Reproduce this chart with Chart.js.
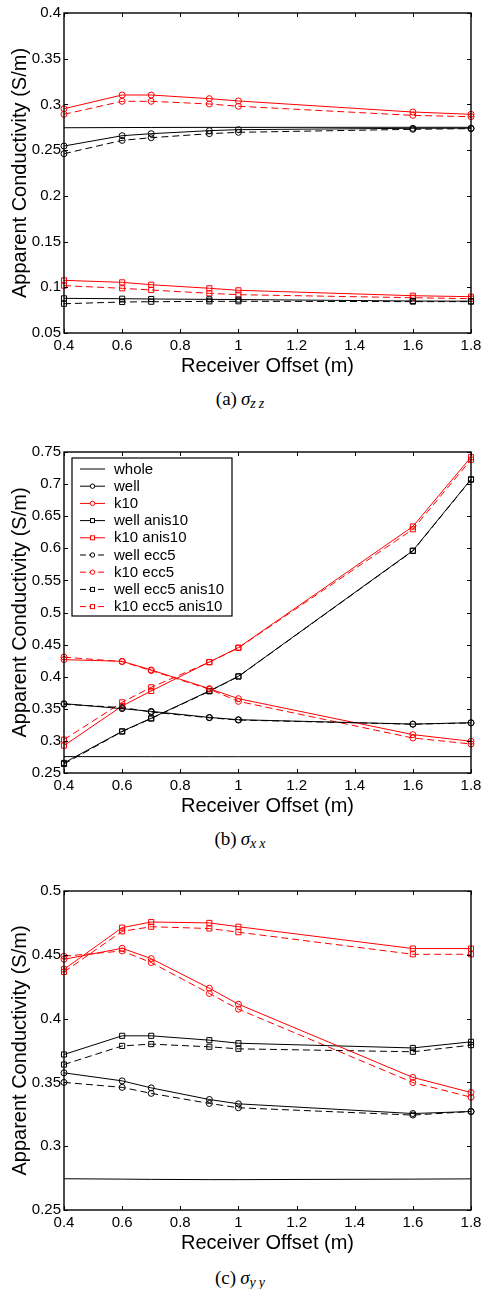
<!DOCTYPE html>
<html>
<head>
<meta charset="utf-8">
<script src="https://cdn.jsdelivr.net/npm/chart.js@4.4.1/dist/chart.umd.min.js"></script>
<style>
  body { margin: 0; background: #fff; }
  #page { position: relative; width: 483px; height: 1289px; overflow: hidden; }
  canvas { position: absolute; left: 0; }
  .cap {
    position: absolute; left: 0; width: 483px; text-align: center;
    font-family: "Liberation Serif", "DejaVu Serif", serif; font-size: 19px; color: #000;
    line-height: 22px;
  }
  .cap i.s { margin-left: 4px; }
  .cap sub { font-size: 14px; letter-spacing: 3px; vertical-align: -3px; }
</style>
</head>
<body>
<div id="page">
  <canvas id="chartZZ" width="483" height="378" style="top:0px"></canvas>
  <div class="cap" style="top:388px">(a)<i class="s">σ</i><sub><i>zz</i></sub></div>
  <canvas id="chartXX" width="483" height="379" style="top:439px"></canvas>
  <div class="cap" style="top:828px">(b)<i class="s">σ</i><sub><i>xx</i></sub></div>
  <canvas id="chartYY" width="483" height="377" style="top:878px"></canvas>
  <div class="cap" style="top:1267px">(c)<i class="s">σ</i><sub><i>yy</i></sub></div>
</div>
<script>
// receiver offsets (m), same for every series
const offsets = [0.4, 0.6, 0.7, 0.9, 1.0, 1.6, 1.8];

// sigma zz
const zzWhole       = [0.2745, 0.2747, 0.2748, 0.2749, 0.2749, 0.275, 0.275];
const zzWell        = [0.2545, 0.2658, 0.268, 0.2713, 0.2724, 0.2739, 0.274];
const zzK10         = [0.2953, 0.3103, 0.3103, 0.3063, 0.3038, 0.2917, 0.2892];
const zzWellAnis    = [0.0879, 0.0875, 0.0872, 0.0868, 0.0866, 0.085, 0.0848];
const zzK10Anis     = [0.1076, 0.1054, 0.1028, 0.0989, 0.0967, 0.0908, 0.0897];
const zzWellEcc     = [0.2461, 0.2607, 0.2636, 0.268, 0.2695, 0.2728, 0.2735];
const zzK10Ecc      = [0.2892, 0.3034, 0.3034, 0.3005, 0.298, 0.288, 0.2866];
const zzWellEccAnis = [0.082, 0.0839, 0.0842, 0.0846, 0.0847, 0.0843, 0.0843];
const zzK10EccAnis  = [0.1018, 0.0989, 0.097, 0.0934, 0.0919, 0.0886, 0.0875];

// sigma xx
const xxWhole       = [0.2755, 0.2755, 0.2754, 0.2754, 0.2754, 0.2755, 0.2755];
const xxWell        = [0.358, 0.3502, 0.346, 0.3366, 0.333, 0.3262, 0.3283];
const xxK10         = [0.4266, 0.424, 0.4105, 0.3814, 0.3658, 0.3098, 0.2994];
const xxWellAnis    = [0.2657, 0.315, 0.3353, 0.3778, 0.4006, 0.5964, 0.7075];
const xxK10Anis     = [0.2927, 0.3544, 0.3778, 0.4229, 0.4453, 0.634, 0.742];
const xxWellEcc     = [0.357, 0.352, 0.345, 0.336, 0.3325, 0.326, 0.328];
const xxK10Ecc      = [0.4305, 0.4235, 0.4095, 0.3805, 0.3616, 0.3045, 0.2952];
const xxWellEccAnis = [0.264, 0.3145, 0.3348, 0.3772, 0.4002, 0.5958, 0.707];
const xxK10EccAnis  = [0.302, 0.3601, 0.3835, 0.4225, 0.4448, 0.6296, 0.738];

// sigma yy
const yyWhole       = [0.2745, 0.2742, 0.274, 0.2738, 0.2738, 0.2742, 0.2744];
const yyWell        = [0.3575, 0.3512, 0.3457, 0.3366, 0.3332, 0.3256, 0.3272];
const yyK10         = [0.4465, 0.4551, 0.447, 0.4238, 0.4113, 0.3539, 0.3421];
const yyWellAnis    = [0.3719, 0.3865, 0.3865, 0.3831, 0.3807, 0.377, 0.3818];
const yyK10Anis     = [0.4387, 0.4713, 0.4757, 0.475, 0.472, 0.4549, 0.4549];
const yyWellEcc     = [0.35, 0.3461, 0.3414, 0.3335, 0.3301, 0.3244, 0.3272];
const yyK10Ecc      = [0.4489, 0.453, 0.4439, 0.4197, 0.4074, 0.3499, 0.3384];
const yyWellEccAnis = [0.364, 0.3786, 0.38, 0.3779, 0.3763, 0.374, 0.3792];
const yyK10EccAnis  = [0.4366, 0.4684, 0.472, 0.4706, 0.4677, 0.4504, 0.4504];

const seriesNames = ["whole", "well", "k10", "well anis10", "k10 anis10",
                     "well ecc5", "k10 ecc5", "well ecc5 anis10", "k10 ecc5 anis10"];

// line colour, dash and marker for each series (same order as names)
const seriesStyles = [
  { color: "#000", dash: [], marker: false },
  { color: "#000", dash: [], marker: "circle" },
  { color: "#f00", dash: [], marker: "circle" },
  { color: "#000", dash: [], marker: "rect" },
  { color: "#f00", dash: [], marker: "rect" },
  { color: "#000", dash: [7, 4], marker: "circle" },
  { color: "#f00", dash: [7, 4], marker: "circle" },
  { color: "#000", dash: [7, 4], marker: "rect" },
  { color: "#f00", dash: [7, 4], marker: "rect" }
];

const FONT = "'Liberation Sans', Arial, Helvetica, sans-serif";
Chart.defaults.font.family = FONT;
Chart.defaults.color = "#000";

const fmt = (v) => String(parseFloat(Number(v).toFixed(3)));

// box around the plot with inward ticks on all four sides
const frameTicks = {
  id: "frameTicks",
  afterDatasetsDraw(chart) {
    const ctx = chart.ctx;
    const a = chart.chartArea;
    const xs = chart.scales.x, ys = chart.scales.y;
    const len = 4;
    ctx.save();
    ctx.strokeStyle = "#000";
    ctx.lineWidth = 1;
    ctx.beginPath();
    for (const t of xs.ticks) {
      const px = Math.round(xs.getPixelForValue(t.value)) + 0.5;
      ctx.moveTo(px, a.bottom); ctx.lineTo(px, a.bottom - len);
      ctx.moveTo(px, a.top); ctx.lineTo(px, a.top + len);
    }
    for (const t of ys.ticks) {
      const py = Math.round(ys.getPixelForValue(t.value)) + 0.5;
      ctx.moveTo(a.left, py); ctx.lineTo(a.left + len, py);
      ctx.moveTo(a.right, py); ctx.lineTo(a.right - len, py);
    }
    ctx.stroke();
    ctx.lineWidth = 1.4;
    ctx.strokeRect(a.left, a.top, a.right - a.left, a.bottom - a.top);
    ctx.restore();
  }
};

// legend box in the upper left corner of the plot
const boxLegend = {
  id: "boxLegend",
  afterDraw(chart, args, opts) {
    if (!opts.show) return;
    const ctx = chart.ctx;
    const a = chart.chartArea;
    const x0 = a.left + 8, y0 = a.top + 6;
    const w = 160, rowH = 17.2, h = 158;
    ctx.save();
    ctx.fillStyle = "#fff";
    ctx.fillRect(x0, y0, w, h);
    ctx.strokeStyle = "#000";
    ctx.lineWidth = 1.2;
    ctx.strokeRect(x0, y0, w, h);
    ctx.font = "15px " + FONT;
    ctx.textBaseline = "middle";
    chart.data.datasets.forEach((ds, i) => {
      const st = seriesStyles[i];
      const y = y0 + 11 + i * rowH;
      ctx.strokeStyle = st.color;
      ctx.lineWidth = 1;
      ctx.setLineDash(st.dash.length ? [6, 3] : []);
      ctx.beginPath();
      ctx.moveTo(x0 + 8, y); ctx.lineTo(x0 + 33, y);
      ctx.stroke();
      ctx.setLineDash([]);
      if (st.marker === "circle") {
        ctx.fillStyle = "#fff";
        ctx.beginPath(); ctx.arc(x0 + 20.5, y, 2.2, 0, Math.PI * 2); ctx.fill(); ctx.stroke();
      } else if (st.marker === "rect") {
        ctx.fillStyle = "#fff";
        ctx.fillRect(x0 + 18.5, y - 2, 4, 4);
        ctx.strokeRect(x0 + 18.5, y - 2, 4, 4);
      }
      ctx.fillStyle = "#000";
      ctx.fillText(ds.label, x0 + 42, y + 0.5);
    });
    ctx.restore();
  }
};

const makeSets = (seriesValues) => seriesValues.map((vals, i) => {
  const st = seriesStyles[i];
  return {
    label: seriesNames[i],
    data: offsets.map((x, k) => ({ x: x, y: vals[k] })),
    borderColor: st.color,
    borderWidth: 1,
    borderDash: st.dash,
    tension: 0,
    clip: false,
    pointStyle: st.marker || "circle",
    pointRadius: st.marker ? (st.marker === "rect" ? 3.6 : 3) : 0,
    pointHoverRadius: st.marker ? 3 : 0,
    pointBorderWidth: 1,
    pointBorderColor: st.color,
    pointBackgroundColor: "rgba(0,0,0,0)"
  };
});

const makeChart = (id, seriesValues, yMin, yMax, showLegend) => {
  return new Chart(document.getElementById(id), {
    type: "line",
    data: { datasets: makeSets(seriesValues) },
    options: {
      responsive: false,
      animation: false,
      events: [],
      layout: { padding: { top: 13, right: 12, bottom: 0, left: 0 } },
      plugins: {
        legend: { display: false },
        tooltip: { enabled: false },
        boxLegend: { show: showLegend }
      },
      scales: {
        x: {
          type: "linear",
          min: 0.4, max: 1.8,
          grid: { display: false, drawTicks: false },
          border: { display: false },
          ticks: { stepSize: 0.2, padding: 4, maxRotation: 0, autoSkip: false,
                   font: { size: 15 }, callback: fmt },
          title: { display: true, text: "Receiver Offset (m)", font: { size: 20 },
                   padding: { top: 0, bottom: 0 } },
          afterFit: (s) => { s.height = 45; s.paddingLeft = 0; s.paddingRight = 0; }
        },
        y: {
          type: "linear",
          min: yMin, max: yMax,
          grid: { display: false, drawTicks: false },
          border: { display: false },
          ticks: { stepSize: 0.05, padding: 3, font: { size: 15 }, callback: fmt },
          title: { display: true, text: "Apparent Conductivity (S/m)", font: { size: 20 },
                   padding: { top: 8, bottom: 0 } },
          afterFit: (s) => { s.width = 64; s.paddingTop = 0; s.paddingBottom = 0; }
        }
      }
    },
    plugins: [frameTicks, boxLegend]
  });
};

makeChart("chartZZ",
  [zzWhole, zzWell, zzK10, zzWellAnis, zzK10Anis, zzWellEcc, zzK10Ecc, zzWellEccAnis, zzK10EccAnis],
  0.05, 0.4, false);
makeChart("chartXX",
  [xxWhole, xxWell, xxK10, xxWellAnis, xxK10Anis, xxWellEcc, xxK10Ecc, xxWellEccAnis, xxK10EccAnis],
  0.25, 0.75, true);
makeChart("chartYY",
  [yyWhole, yyWell, yyK10, yyWellAnis, yyK10Anis, yyWellEcc, yyK10Ecc, yyWellEccAnis, yyK10EccAnis],
  0.25, 0.5, false);
</script>
</body>
</html>
